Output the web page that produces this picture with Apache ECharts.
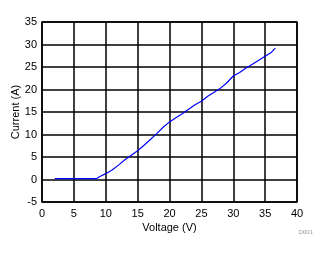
<!DOCTYPE html>
<html><head><meta charset="utf-8">
<script src="https://cdn.jsdelivr.net/npm/echarts@6/dist/echarts.min.js"></script>
<style>html,body{margin:0;padding:0;background:#fff}#c{width:329px;height:254px}</style>
</head><body><div id="c"></div>
<script>
var voltage = [2, 3, 4, 5, 6, 7, 8, 8.6, 9, 10, 11, 12, 13, 14, 15, 16, 17, 18, 19, 20, 21, 22, 23, 24, 25, 26, 27, 28, 29, 30, 31, 32, 33, 34, 35, 36, 36.6];
var current = [0.2, 0.2, 0.2, 0.2, 0.2, 0.2, 0.2, 0.2, 0.6, 1.3, 2.1, 3.2, 4.4, 5.4, 6.4, 7.6, 8.9, 10.2, 11.6, 12.8, 13.7, 14.6, 15.6, 16.6, 17.4, 18.5, 19.4, 20.3, 21.5, 23.0, 23.8, 24.8, 25.6, 26.5, 27.4, 28.3, 29.2];
var xTitle = 'Voltage (V)';
var yTitle = 'Current (A)';
var note = 'D001';

var font = 'Liberation Sans, Arial, sans-serif';
var chart = echarts.init(document.getElementById('c'));
chart.setOption({
  animation: false,
  grid: {left: 42, right: 32, top: 22, bottom: 52, show: true, borderColor: '#000', borderWidth: 1.5, containLabel: false, outerBoundsMode: 'none'},
  graphic: [{type: 'text', right: 16, top: 229, style: {text: note, font: '6px ' + font, fill: '#999'}}],
  xAxis: {
    type: 'value', min: 0, max: 40, interval: 5,
    name: xTitle, nameLocation: 'middle', nameGap: 20, nameMoveOverlap: false,
    nameTextStyle: {color: '#000', fontFamily: font, fontSize: 11},
    axisLine: {show: false}, axisTick: {show: false},
    axisLabel: {color: '#000', fontFamily: font, fontSize: 11, margin: 6},
    splitLine: {lineStyle: {color: '#000', width: 1.5}}
  },
  yAxis: {
    type: 'value', min: -5, max: 35, interval: 5,
    name: yTitle, nameLocation: 'middle', nameGap: 21, nameMoveOverlap: false,
    nameTextStyle: {color: '#000', fontFamily: font, fontSize: 11},
    axisLine: {show: false}, axisTick: {show: false},
    axisLabel: {color: '#000', fontFamily: font, fontSize: 11, margin: 5},
    splitLine: {lineStyle: {color: '#000', width: 1.5}}
  },
  series: [{
    type: 'line', showSymbol: false, z: 5,
    data: voltage.map(function (v, i) { return [v, current[i]]; }),
    lineStyle: {color: '#0000ff', width: 1.2}
  }]
});
</script></body></html>
